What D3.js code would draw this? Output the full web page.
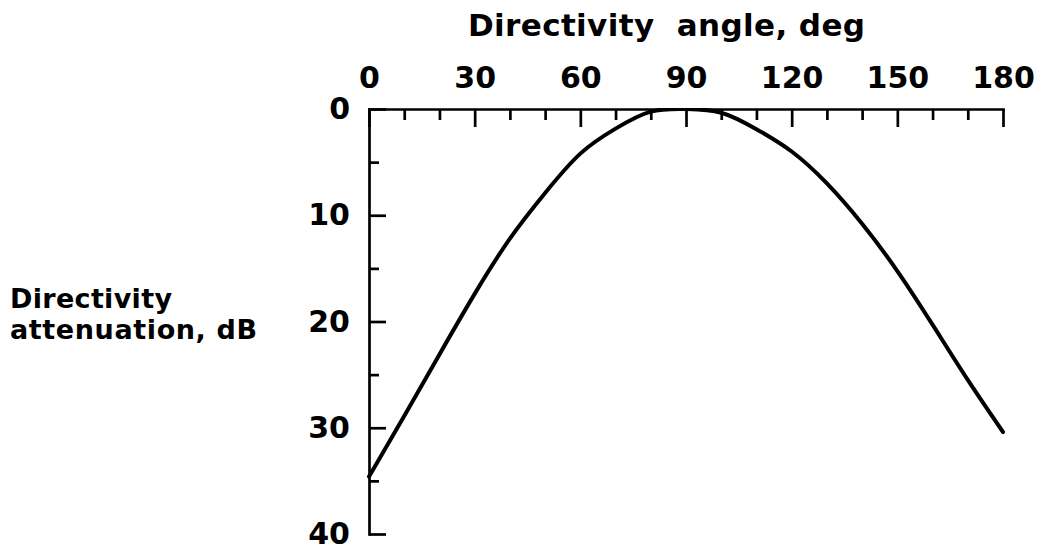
<!DOCTYPE html>
<html>
<head>
<meta charset="utf-8">
<script src="https://cdn.jsdelivr.net/npm/d3@7"></script>
<style>
  body { margin: 0; background: #fff; }
  svg text { font-family: "DejaVu Sans", sans-serif; font-weight: bold; fill: #000; }
</style>
</head>
<body>
<svg id="chart" width="1047" height="550"></svg>
<script>
// Directivity attenuation (dB) versus directivity angle (deg)
const angles      = [0, 10, 20, 30, 40, 50, 60, 70, 80, 90, 100, 110, 120, 130, 140, 150, 160, 170, 180];
const attenuation = [34.6, 28.9, 23.1, 17.4, 12.2, 7.9, 4.2, 1.85, 0.25, 0, 0.35, 1.9, 4.0, 7.0, 10.8, 15.25, 20.3, 25.5, 30.4];

const angleMajorTicks = [0, 30, 60, 90, 120, 150, 180];
const angleMinorTicks = [10, 20, 40, 50, 70, 80, 100, 110, 130, 140, 160, 170];
const dbMajorTicks = [0, 10, 20, 30, 40];
const dbMinorTicks = [5, 15, 25, 35];

const xTitle = "Directivity  angle, deg";
const yTitleLines = ["Directivity", "attenuation, dB"];

const svg = d3.select("#chart");
svg.append("rect").attr("width", 1047).attr("height", 550).attr("fill", "#fff");

const x = d3.scaleLinear().domain([0, 180]).range([369, 1003]);
const y = d3.scaleLinear().domain([0, 40]).range([109, 534]);

const axisStroke = 2.7;
const fontSize = 30;

function styleAxis(g) {
  g.attr("font-family", null).attr("font-size", null);
  g.selectAll("path.domain").attr("stroke", "#000").attr("stroke-width", axisStroke).attr("stroke-linecap", "square");
  g.selectAll(".tick line").attr("stroke", "#000").attr("stroke-width", axisStroke);
  g.selectAll(".tick text").attr("font-size", fontSize).attr("fill", "#000");
}

// top angle axis: ticks point down into the plot, labels above
const topMajor = svg.append("g").attr("transform", `translate(0,${y(0)})`)
  .call(d3.axisTop(x).tickValues(angleMajorTicks).tickSizeInner(-18).tickSizeOuter(0).tickPadding(21).tickFormat(d3.format("d")));
styleAxis(topMajor);

const topMinor = svg.append("g").attr("transform", `translate(0,${y(0)})`)
  .call(d3.axisTop(x).tickValues(angleMinorTicks).tickSizeInner(-11).tickSizeOuter(0).tickFormat(""));
topMinor.select("path.domain").remove();
styleAxis(topMinor);

// left attenuation axis: ticks point right into the plot, labels on the left
const leftMajor = svg.append("g").attr("transform", `translate(${x(0)},0)`)
  .call(d3.axisLeft(y).tickValues(dbMajorTicks).tickSizeInner(-17).tickSizeOuter(0).tickPadding(19).tickFormat(d3.format("d")));
styleAxis(leftMajor);

const leftMinor = svg.append("g").attr("transform", `translate(${x(0)},0)`)
  .call(d3.axisLeft(y).tickValues(dbMinorTicks).tickSizeInner(-10).tickSizeOuter(0).tickFormat(""));
leftMinor.select("path.domain").remove();
styleAxis(leftMinor);

// directivity curve (clamped so it never rises above the 0 dB line)
const line = d3.line()
  .x((d, i) => x(angles[i]))
  .y(d => y(d))
  .curve(d3.curveNatural);

const clip = svg.append("clipPath").attr("id", "plot-clip");
clip.append("rect")
  .attr("x", x(0) - 5).attr("y", y(0) - 1)
  .attr("width", x(180) - x(0) + 10).attr("height", y(40) - y(0) + 1);

svg.append("path")
  .datum(attenuation)
  .attr("d", line)
  .attr("clip-path", "url(#plot-clip)")
  .attr("fill", "none")
  .attr("stroke", "#000")
  .attr("stroke-width", 4)
  .attr("stroke-linecap", "round")
  .attr("stroke-linejoin", "round");

// axis titles
svg.append("text")
  .attr("x", 468).attr("y", 36)
  .attr("font-size", 31)
  .attr("textLength", 397).attr("lengthAdjust", "spacing")
  .style("white-space", "pre")
  .text(xTitle);

svg.append("text").attr("font-size", 27)
  .attr("x", 10).attr("y", 308)
  .attr("textLength", 162).attr("lengthAdjust", "spacing")
  .text(yTitleLines[0]);
svg.append("text").attr("font-size", 27)
  .attr("x", 10).attr("y", 339)
  .attr("textLength", 247).attr("lengthAdjust", "spacing")
  .text(yTitleLines[1]);
</script>
</body>
</html>
